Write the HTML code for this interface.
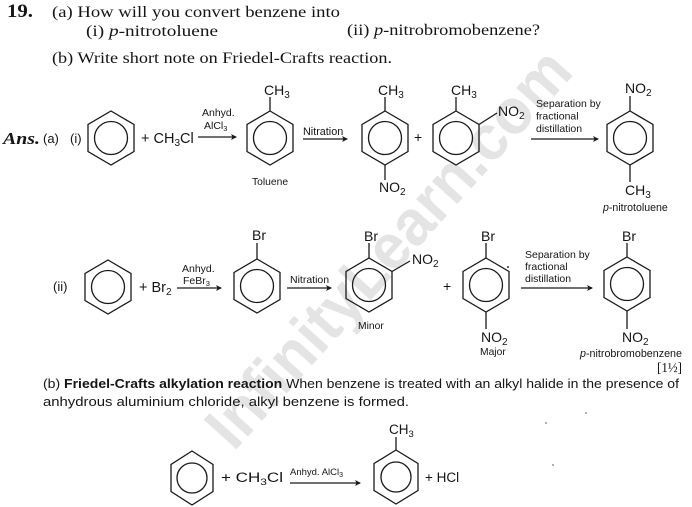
<!DOCTYPE html>
<html><head><meta charset="utf-8"><style>
html,body{margin:0;padding:0;background:#fff;}
svg{display:block;}
.s{font-family:"Liberation Sans",Arial,sans-serif;fill:#151515;}
.r{font-family:"Liberation Serif","Times New Roman",serif;fill:#151515;}
.ln{stroke:#1a1a1a;stroke-width:1.3;fill:none;}
.ah{fill:#1a1a1a;stroke:none;}
</style></head><body>
<svg width="692" height="507" viewBox="0 0 692 507" xmlns="http://www.w3.org/2000/svg">
<rect width="692" height="507" fill="#fff"/>
<!-- watermark -->
<g transform="translate(388 248) rotate(-48)">
<text x="0" y="22" text-anchor="middle" font-family="Liberation Sans, sans-serif" font-weight="bold" font-size="64" fill="#e4e4e4" textLength="510" lengthAdjust="spacingAndGlyphs">InfinityLearn.com</text>
</g>

<!-- header -->
<text class="r" x="7" y="17" font-size="19" font-weight="bold" textLength="26" lengthAdjust="spacingAndGlyphs">19.</text>
<text class="r" x="52" y="17" font-size="16" textLength="288" lengthAdjust="spacingAndGlyphs">(a) How will you convert benzene into</text>
<text class="r" x="86" y="36" font-size="16" textLength="132" lengthAdjust="spacingAndGlyphs">(i)  <tspan font-style="italic">p</tspan>-nitrotoluene</text>
<text class="r" x="347" y="35" font-size="16" textLength="193" lengthAdjust="spacingAndGlyphs">(ii) <tspan font-style="italic">p</tspan>-nitrobromobenzene?</text>
<text class="r" x="52" y="63" font-size="16" textLength="340" lengthAdjust="spacingAndGlyphs">(b) Write short note on Friedel-Crafts reaction.</text>

<!-- Row 1 -->
<text class="r" x="3" y="144" font-size="17" font-weight="bold" font-style="italic" textLength="37" lengthAdjust="spacingAndGlyphs">Ans.</text>
<text class="s" x="43" y="143" font-size="13">(a)</text>
<text class="s" x="70" y="143" font-size="13">(i)</text>

<polygon class="ln" points="111,111 134,124.5 134,151.5 111,165 88,151.5 88,124.5"/>
<circle class="ln" cx="111" cy="138" r="16.5"/>
<text class="s" x="141" y="143" font-size="14.5">+ CH<tspan font-size="10" dy="3">3</tspan><tspan dy="-3">Cl</tspan></text>

<line class="ln" x1="198" y1="137" x2="236" y2="137"/>
<path class="ah" d="M237,137 L231,134 L232.5,137 L231,140 Z"/>
<text class="s" x="202" y="116" font-size="10.5">Anhyd.</text>
<text class="s" x="204" y="129" font-size="10.5">AlCl<tspan font-size="7.5" dy="2">3</tspan></text>

<polygon class="ln" points="270,111 293,124.5 293,151.5 270,165 247,151.5 247,124.5"/>
<circle class="ln" cx="270" cy="138" r="16.5"/>
<line class="ln" x1="270" y1="111" x2="270" y2="97"/>
<text class="s" x="264" y="95" font-size="14">CH<tspan font-size="10" dy="3">3</tspan></text>
<text class="s" x="252" y="185" font-size="10.3">Toluene</text>

<line class="ln" x1="303" y1="139" x2="347" y2="139"/>
<path class="ah" d="M348,139 L342,136 L343.5,139 L342,142 Z"/>
<text class="s" x="303" y="135" font-size="10.8">Nitration</text>

<polygon class="ln" points="385,111 408,124.5 408,151.5 385,165 362,151.5 362,124.5"/>
<circle class="ln" cx="385" cy="138" r="16.5"/>
<line class="ln" x1="385" y1="111" x2="385" y2="97"/>
<text class="s" x="378" y="95" font-size="14">CH<tspan font-size="10" dy="3">3</tspan></text>
<line class="ln" x1="385" y1="165" x2="385" y2="180"/>
<text class="s" x="379" y="192" font-size="14">NO<tspan font-size="10" dy="3">2</tspan></text>

<text class="s" x="414" y="142" font-size="14">+</text>

<polygon class="ln" points="456,111 479,124.5 479,151.5 456,165 433,151.5 433,124.5"/>
<circle class="ln" cx="456" cy="138" r="16.5"/>
<line class="ln" x1="456" y1="111" x2="456" y2="97"/>
<text class="s" x="451" y="95" font-size="14">CH<tspan font-size="10" dy="3">3</tspan></text>
<line class="ln" x1="479" y1="124.5" x2="497" y2="113"/>
<text class="s" x="498" y="116" font-size="14">NO<tspan font-size="10" dy="3">2</tspan></text>

<line class="ln" x1="531" y1="139" x2="598" y2="139"/>
<path class="ah" d="M599,139 L593,136 L594.5,139 L593,142 Z"/>
<text class="s" x="536" y="107" font-size="10.5">Separation by</text>
<text class="s" x="536" y="119.5" font-size="10.5">fractional</text>
<text class="s" x="536" y="132" font-size="10.5">distillation</text>

<polygon class="ln" points="630,111 653,124.5 653,151.5 630,165 607,151.5 607,124.5"/>
<circle class="ln" cx="630" cy="138" r="16.5"/>
<line class="ln" x1="630" y1="111" x2="630" y2="96"/>
<text class="s" x="625" y="93" font-size="14">NO<tspan font-size="10" dy="3">2</tspan></text>
<line class="ln" x1="630" y1="165" x2="630" y2="182"/>
<text class="s" x="625" y="195" font-size="14">CH<tspan font-size="10" dy="3">3</tspan></text>
<text class="s" x="603" y="211" font-size="10.6"><tspan font-style="italic">p</tspan>-nitrotoluene</text>

<!-- Row 2 -->
<text class="s" x="53" y="291" font-size="13">(ii)</text>
<polygon class="ln" points="108,260 131,273.5 131,300.5 108,314 85,300.5 85,273.5"/>
<circle class="ln" cx="108" cy="287" r="16.5"/>
<text class="s" x="139" y="292" font-size="14.5">+ Br<tspan font-size="10" dy="3">2</tspan></text>

<line class="ln" x1="177" y1="288" x2="221" y2="288"/>
<path class="ah" d="M222,288 L216,285 L217.5,288 L216,291 Z"/>
<text class="s" x="182" y="272" font-size="10.5">Anhyd.</text>
<text class="s" x="183" y="284" font-size="10.5">FeBr<tspan font-size="7.5" dy="2">3</tspan></text>

<polygon class="ln" points="257,259 280,272.5 280,299.5 257,313 234,299.5 234,272.5"/>
<circle class="ln" cx="257" cy="286" r="16.5"/>
<line class="ln" x1="257" y1="259" x2="257" y2="243"/>
<text class="s" x="252" y="240" font-size="14">Br</text>

<line class="ln" x1="287" y1="288" x2="331" y2="288"/>
<path class="ah" d="M332,288 L326,285 L327.5,288 L326,291 Z"/>
<text class="s" x="290" y="283" font-size="10.5">Nitration</text>

<polygon class="ln" points="369,258 392,271.5 392,298.5 369,312 346,298.5 346,271.5"/>
<circle class="ln" cx="369" cy="285" r="16.5"/>
<line class="ln" x1="369" y1="258" x2="369" y2="243"/>
<text class="s" x="364" y="241" font-size="14">Br</text>
<line class="ln" x1="392" y1="271.5" x2="410" y2="261"/>
<text class="s" x="412" y="264" font-size="14">NO<tspan font-size="10" dy="3">2</tspan></text>
<text class="s" x="358" y="329" font-size="10.3">Minor</text>

<text class="s" x="443" y="291" font-size="14">+</text>

<polygon class="ln" points="486,258 509,271.5 509,298.5 486,312 463,298.5 463,271.5"/>
<circle class="ln" cx="486" cy="285" r="16.5"/>
<line class="ln" x1="486" y1="258" x2="486" y2="243"/>
<text class="s" x="481" y="241" font-size="14">Br</text>
<line class="ln" x1="486" y1="312" x2="486" y2="329"/>
<text class="s" x="481" y="342" font-size="14">NO<tspan font-size="10" dy="3">2</tspan></text>
<text class="s" x="480" y="355" font-size="10.3">Major</text>
<circle cx="508" cy="267" r="1" fill="#333"/>

<line class="ln" x1="521" y1="288" x2="592" y2="288"/>
<path class="ah" d="M593,288 L587,285 L588.5,288 L587,291 Z"/>
<text class="s" x="525" y="258" font-size="10.5">Separation by</text>
<text class="s" x="525" y="270" font-size="10.5">fractional</text>
<text class="s" x="525" y="282" font-size="10.5">distillation</text>

<polygon class="ln" points="627,257 650,270.5 650,297.5 627,311 604,297.5 604,270.5"/>
<circle class="ln" cx="627" cy="284" r="16.5"/>
<line class="ln" x1="627" y1="257" x2="627" y2="243"/>
<text class="s" x="622" y="241" font-size="14">Br</text>
<line class="ln" x1="627" y1="311" x2="627" y2="329"/>
<text class="s" x="622" y="342" font-size="14">NO<tspan font-size="10" dy="3">2</tspan></text>
<text class="s" x="580" y="357" font-size="10.8" textLength="102" lengthAdjust="spacingAndGlyphs"><tspan font-style="italic">p</tspan>-nitrobromobenzene</text>
<text class="r" x="657" y="372" font-size="14" textLength="25" lengthAdjust="spacingAndGlyphs">[1½]</text>

<!-- part (b) -->
<text class="s" x="43" y="388" font-size="12.5" textLength="636" lengthAdjust="spacingAndGlyphs">(b) <tspan font-weight="bold">Friedel-Crafts alkylation reaction</tspan> When benzene is treated with an alkyl halide in the presence of</text>
<text class="s" x="43" y="406" font-size="12.5" textLength="366" lengthAdjust="spacingAndGlyphs">anhydrous aluminium chloride, alkyl benzene is formed.</text>

<polygon class="ln" points="192,451 213,464.5 213,491.5 192,505 171,491.5 171,464.5"/>
<circle class="ln" cx="192" cy="478" r="15"/>
<text class="s" x="221" y="482" font-size="13.5" textLength="62" lengthAdjust="spacingAndGlyphs">+ CH<tspan font-size="9.5" dy="3">3</tspan><tspan dy="-3">Cl</tspan></text>

<line class="ln" x1="290" y1="483" x2="360" y2="483"/>
<path class="ah" d="M361,483 L355,480 L356.5,483 L355,486 Z"/>
<text class="s" x="290" y="475" font-size="9.5">Anhyd. AlCl<tspan font-size="7" dy="2">3</tspan></text>

<polygon class="ln" points="396,450 418,463.5 418,490.5 396,504 374,490.5 374,463.5"/>
<circle class="ln" cx="396" cy="477" r="15"/>
<line class="ln" x1="396" y1="450" x2="396" y2="437"/>
<text class="s" x="389" y="434" font-size="13.5">CH<tspan font-size="9.5" dy="3">3</tspan></text>
<text class="s" x="425" y="482" font-size="13.5">+ HCl</text>

<circle cx="586" cy="413" r="0.8" fill="#555"/>
<circle cx="546" cy="423" r="0.8" fill="#555"/>
<circle cx="553" cy="465" r="0.8" fill="#555"/>
</svg>
</body></html>
